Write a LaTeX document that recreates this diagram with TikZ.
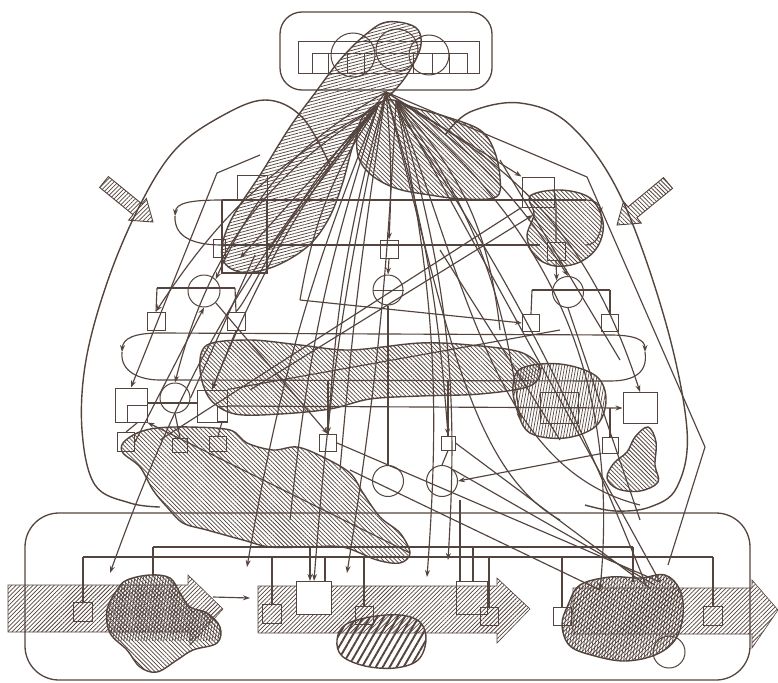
\documentclass[tikz,border=0pt]{standalone}
\usetikzlibrary{patterns.meta,arrows.meta,calc}
\definecolor{ink}{RGB}{84,68,62}
\begin{document}
\begin{tikzpicture}[x=1pt,y=-1pt,
  color=ink, line width=1.15pt,
  >={Stealth[length=7pt,width=5pt]},
  sq/.style={draw=ink, line width=1pt, inner sep=0pt, rectangle, minimum size=#1},
  sq/.default=18,
  rbox/.style 2 args={draw=ink, line width=1pt, inner sep=0pt, rectangle, minimum width=#1, minimum height=#2},
  circ/.style={draw=ink, line width=1pt, inner sep=0pt, circle, minimum size=#1},
  hA/.style={pattern={Lines[angle=45,distance=3pt,line width=0.75pt]}, pattern color=ink},
  hB/.style={pattern={Lines[angle=-45,distance=3pt,line width=0.75pt]}, pattern color=ink},
  hH/.style={pattern={Lines[angle=15,distance=3pt,line width=0.75pt]}, pattern color=ink},
  hV/.style={pattern={Lines[angle=80,distance=2.8pt,line width=0.7pt]}, pattern color=ink},
  hT/.style={pattern={Lines[angle=60,distance=6pt,line width=1.9pt]}, pattern color=ink},
  blob/.style={draw=ink, line width=1.4pt},
  band/.style={draw=ink, line width=0.6pt, hA},
  conn/.style={draw=ink, line width=1.15pt},
]
\fill[white] (0,0) rectangle (778,682);
\useasboundingbox (0,0) rectangle (778,682);

% ---------- bottom frame and bands ----------
\node[rbox={725}{167}, rounded corners=34pt, line width=1.3pt] (botbox) at (387.5,596.5) {};
\path[band] (8,585) -- (188,585) -- (188,575) -- (223,609) -- (190,645) -- (190,632) -- (8,632) -- cycle;
\path[band] (258,586) -- (497,586) -- (497,578) -- (530,609) -- (497,643) -- (497,633) -- (258,633) -- cycle;
\path[band] (573,588) -- (752,588) -- (752,580) -- (778,610) -- (752,648) -- (752,634) -- (573,634) -- cycle;

% ---------- top frame ----------
\node[rbox={212}{78}, rounded corners=22pt, line width=1.3pt] (topbox) at (386,51) {};
\node[rbox={181}{32}] (toprect) at (388.5,58) {};

% ---------- blobs ----------
\draw[blob,hB] plot[smooth cycle, tension=0.6] coordinates {(387,100)(415,108)(447,117)(480,130)(494,150)(500,178)(496,197)(463,199)(430,195)(395,188)(368,172)(357,150)(362,118)};
\draw[blob,hH] plot[smooth cycle, tension=0.6] coordinates {(387,22)(415,27)(421,45)(410,70)(395,90)(372,112)(355,140)(342,185)(328,220)(307,247)(273,267)(240,272)(222,257)(230,222)(262,172)(290,127)(315,93)(340,60)(365,35)};
\draw[blob,hB] plot[smooth cycle, tension=0.6] coordinates {(530,196)(560,190)(590,198)(603,222)(598,246)(580,262)(555,266)(535,256)(527,236)(534,214)};
\draw[blob,hB] plot[smooth cycle, tension=0.55] coordinates {(207,345)(250,340)(300,345)(350,350)(420,343)(470,345)(520,352)(540,368)(530,386)(480,394)(420,396)(370,399)(330,409)(280,414)(235,414)(210,399)(200,370)};
\draw[blob,hV] plot[smooth cycle, tension=0.6] coordinates {(522,368)(560,364)(596,376)(606,400)(596,426)(565,438)(530,433)(517,410)(513,386)};
\draw[line width=0.9pt] (540,392) rectangle (578,423);
\draw[blob,hB] plot[smooth cycle, tension=0.6] coordinates {(648,427)(656,442)(655,465)(658,482)(640,491)(618,489)(607,478)(614,463)(627,452)(635,437)};
\draw[blob,hB] plot[smooth cycle, tension=0.55] coordinates {(123,443)(137,433)(157,428)(190,427)(230,430)(247,443)(273,450)(297,447)(323,457)(350,473)(363,493)(380,517)(400,533)(410,553)(400,563)(377,560)(343,547)(307,547)(270,547)(243,540)(207,530)(183,523)(167,507)(153,490)(140,467)(123,453)};
% bottom blobs
\path[hB] plot[smooth cycle, tension=0.6] coordinates {(127,580)(150,575)(170,578)(180,593)(190,607)(207,613)(220,627)(217,643)(193,650)(177,660)(157,672)(140,667)(127,650)(110,633)(107,610)(117,590)};
\begin{scope}
\clip (100,570) rectangle (230,640);
\path[hV] plot[smooth cycle, tension=0.6] coordinates {(127,580)(150,575)(170,578)(180,593)(190,607)(207,613)(220,627)(217,643)(193,650)(177,660)(157,672)(140,667)(127,650)(110,633)(107,610)(117,590)};
\end{scope}
\draw[blob] plot[smooth cycle, tension=0.6] coordinates {(127,580)(150,575)(170,578)(180,593)(190,607)(207,613)(220,627)(217,643)(193,650)(177,660)(157,672)(140,667)(127,650)(110,633)(107,610)(117,590)};
\draw[blob,hT] plot[smooth cycle, tension=0.6] coordinates {(345,625)(370,617)(400,615)(420,622)(426,640)(418,660)(395,668)(365,666)(342,656)(337,640)};
\path[hA] plot[smooth cycle, tension=0.6] coordinates {(580,585)(610,577)(640,578)(665,575)(680,590)(683,615)(675,640)(655,655)(625,661)(595,656)(570,646)(562,625)(568,605)};
\path[hV] plot[smooth cycle, tension=0.6] coordinates {(580,585)(610,577)(640,578)(665,575)(680,590)(683,615)(675,640)(655,655)(625,661)(595,656)(570,646)(562,625)(568,605)};
\draw[blob] plot[smooth cycle, tension=0.6] coordinates {(580,585)(610,577)(640,578)(665,575)(680,590)(683,615)(675,640)(655,655)(625,661)(595,656)(570,646)(562,625)(568,605)};

% ---------- block arrows ----------
\path[band, line width=0.9pt] (99.6,187.4) -- (133.1,214.7) -- (128.6,220.2) -- (153,222) -- (146.4,198.5) -- (141.9,203.9) -- (108.4,176.6) -- cycle;
\path[band, line width=0.9pt, hB] (672.5,188.4) -- (636.9,217.7) -- (641.3,223.1) -- (617,225) -- (623.5,201.5) -- (628,206.9) -- (663.5,177.6) -- cycle;

% ---------- nodes ----------
\node[circ=44] (tc1) at (353,55) {};
\node[circ=42] (tc2) at (397,50) {};
\node[circ=40] (tc3) at (429,55) {};
\node[rbox={16}{20}] (ts1) at (320,64) {};
\node[rbox={17}{20}] (ts2) at (356,64) {};
\node[rbox={19}{20}] (ts3) at (423,64) {};
\node[rbox={18}{20}] (ts4) at (458,64) {};
\draw[line width=1pt] (ts1.north) -- (ts4.north);

\node[rbox={30}{24}] (s1a) at (252,187) {};
\node[rbox={32}{30}] (s1b) at (538,192) {};
\node[sq=18] (s1c) at (389,249) {};
\node[rbox={12}{18}] (s1d) at (219,248) {};
\node[rbox={18}{18}] (s1e) at (556,251) {};

\node[circ=32] (c2a) at (204,291) {};
\node[circ=30] (c2b) at (388,290) {};
\node[circ=31] (c2c) at (568,292) {};
\draw[line width=1pt] (c2b.west) -- (c2b.east);
\node[sq=18] (q2a) at (156,321) {};
\node[sq=18] (q2b) at (236,321) {};
\node[sq=17] (q2c) at (531,323) {};
\node[sq=17] (q2d) at (610,323) {};

\node[rbox={32}{34}] (r3a) at (131,405) {};
\node[circ=30] (c3) at (175,398) {};
\node[rbox={30}{32}] (r3b) at (212,406) {};
\node[rbox={20}{17}] (r3c) at (137,414) {};
\node[rbox={10}{15}] (r3d) at (222,414) {};
\node[rbox={17}{19}] (q3a) at (126,442) {};
\node[rbox={15}{14}] (q3b) at (180,445) {};
\node[rbox={17}{15}] (q3c) at (218,444) {};
\node[sq=17] (q3e) at (328,443) {};
\node[sq=14] (q3f) at (448,443) {};
\node[rbox={34}{31}] (r3r) at (640,408) {};
\node[sq=16] (q3r) at (610,445) {};
\node[circ=31] (c4a) at (388,481) {};
\node[circ=31] (c4b) at (442,481) {};

\node[sq=19] (bs1) at (83,612) {};
\node[sq=19] (bs2) at (272,614) {};
\node[rbox={35}{33}, fill=white] (br1) at (314,598) {};
\node[sq=18] (bs3) at (364,615) {};
\node[rbox={31}{33}] (br2) at (472,598) {};
\node[sq=18] (bs4) at (489,616) {};
\node[sq=18] (bs5) at (562,616) {};
\node[sq=19] (bs6) at (713,616) {};
\node[circ=32] (bc) at (669,652) {};

% ---------- racetrack loops ----------
\coordinate (L1a) at (222,200); \coordinate (L1b) at (222,245);
\coordinate (R1a) at (586,200); \coordinate (R1b) at (586,245);
\coordinate (L1m) at (175,216); \coordinate (R1m) at (601,214);
\draw[conn] (L1a) -- (R1a);
\draw[conn] (L1b) -- (540,245);
\draw[conn,->] (L1a) .. controls (190,200) and (176,203) .. (L1m);
\draw[conn] (L1m) .. controls (174,238) and (195,245) .. (L1b);
\draw[conn,->] (R1a) .. controls (596,200) and (600,205) .. (R1m);
\draw[conn] (R1m) .. controls (603,236) and (595,245) .. (R1b);
\coordinate (L2a) at (160,333); \coordinate (L2b) at (160,380);
\coordinate (R2a) at (610,335); \coordinate (R2b) at (610,381);
\coordinate (L2m) at (122,352); \coordinate (R2m) at (645,352);
\draw[conn] (L2a) -- (R2a);
\draw[conn] (L2b) -- (R2b);
\draw[conn,->] (L2a) .. controls (135,333) and (123,338) .. (L2m);
\draw[conn] (L2m) .. controls (120,372) and (140,380) .. (L2b);
\draw[conn,->] (R2a) .. controls (635,335) and (645,340) .. (R2m);
\draw[conn] (R2m) .. controls (648,372) and (635,381) .. (R2b);

% ---------- trees ----------
\draw[conn] (222,200) -- (222,273) -- (267,273) -- (267,200);
\draw[conn] (s1b.east) -- (556,203) -- (s1e.north);
\draw[conn,->] (s1e.south) -- (c2c.north west);
\draw[conn] (157,288) -- (235,288);
\draw[conn] (157,288) -- (q2a.north); \draw[conn] (235,288) -- (q2b.north);
\draw[conn] (532,290) -- (610,290);
\draw[conn] (532,290) -- (q2c.north); \draw[conn] (610,290) -- (q2d.north);
\draw[conn] (147,403) -- (197,403);
\draw[conn] (r3c.south) -- (q3a.north);
\draw[conn] (c3.south) -- (q3b.north);
\draw[conn] (r3d.south) -- (q3c.north);
\draw[conn,->] (s1c.south) -- (c2b.north);
\draw[conn] (c2b.south) -- (c4a.north);
\draw[conn] (q3f.north) -- (448,380);
\draw[conn] (q3f.south) -- (c4b.north);
\draw[conn] (q3e.north) -- (328,380);
\draw[conn,->] (r3b.east) -- (r3r.west);
\draw[conn] (q3r.north) -- (610,408);
% bottom tree
\draw[conn] (153,547) -- (633,547);
\draw[conn] (83,557) -- (713,557);
\draw[conn] (83,557) -- (bs1.north);
\draw[conn] (153,547) -- (153,576);
\draw[conn] (272,557) -- (bs2.north);
\draw[conn,->] (310,547) -- (br1.north -| 310,0);
\draw[conn] (325,557) -- (325,582);
\draw[conn] (364,557) -- (bs3.north);
\draw[conn] (460,500) -- (460,582);
\draw[conn] (473,547) -- (473,582);
\draw[conn] (489,557) -- (bs4.north);
\draw[conn] (562,557) -- (bs5.north);
\draw[conn] (633,547) -- (633,582);
\draw[conn] (713,557) -- (bs6.north);
\coordinate (ba1) at (213,597); \coordinate (ba2) at (250,598);
\draw[conn,->] (ba1) -- (ba2);

% ---------- big contours ----------
\coordinate (Lo1) at (330,165); \coordinate (Lo2) at (160,507);
\draw[conn, line width=1.4pt] plot[smooth, tension=0.6] coordinates {(Lo1)(302,117)(265,100)(220,117)(175,150)(140,205)(108,280)(86,360)(82,430)(95,485)(130,503)(Lo2)};
\coordinate (Ro1) at (445,135); \coordinate (Ro2) at (585,505);
\draw[conn, line width=1.4pt] plot[smooth, tension=0.6] coordinates {(Ro1)(470,112)(520,103)(570,125)(620,195)(665,320)(687,430)(677,487)(650,507)(615,511)(Ro2)};
\coordinate (H) at (386,92);
\coordinate (Ha) at (378,106);
\coordinate (Hb) at (396,101);
\coordinate (Rp1) at (587,177); \coordinate (Rp2) at (705,447); \coordinate (Rp3) at (668,565);
\draw[conn] (H) -- (Rp1) -- (Rp2) -- (Rp3);
\coordinate (Lp1) at (260,155); \coordinate (Lp2) at (217,173);
\draw[conn,->] (Lp1) -- (Lp2) -- (r3a.north);

% ---------- radiating connectors from the hub ----------
\draw[conn,->] (Ha) to[bend right=10] (110,573);
\draw[conn,->] (Ha) to[bend right=6] (247,567);
\draw[conn,->] (H) to[bend right=4] (br1.north);
\draw[conn,->] (Hb) to[bend left=3] (347,573);
\draw[conn,->] (Hb) to[bend left=8] (427,577);
\draw[conn,->] (H) to[bend right=18] (c2a.north east);
\draw[conn,->] (Ha) to[bend right=22] (c3.north);
\draw[conn,->] (H) to[bend right=8] (r3b.north);
\draw[conn,->] (Hb) to[bend left=22] (r3r.north);
\draw[conn,->] (Hb) to[bend left=28] (600,590);
\draw[conn,->] (H) to[bend left=12] (c2c.north);
\draw[conn,->] (H) to (s1b.north west);
\draw[conn,->] (H) to[bend left=4] (s1c.north);
\draw[conn,->] (Ha) to (240,258);
\draw[conn,->] (Ha) to (268,250);
\draw[conn,->] (H) to[bend left=6] (q3f.north);
\draw[conn,->] (H) to[bend right=6] (q3e.north);
\draw[conn] (Hb) .. controls (470,300) and (500,470) .. (640,505);
\draw[conn] (H) .. controls (445,320) and (470,470) .. (560,520);
\draw[conn] (Ha) .. controls (300,180) and (250,300) .. (q2b.north);
\draw[conn] (Hb) -- (660,582);
\draw[conn] (H) to[bend left=6] (646,585);
\draw[conn,->] (Ha) to[bend right=14] (q2a.north);
\draw[conn,->] (Hb) to[bend left=10] (448,560);
\draw[conn,->] (Hb) to[bend left=14] (520,420);
\draw[conn] (Ha) to[bend right=6] (290,520);
\draw[conn] (H) to[bend right=2] (340,470);
\draw[conn] (Ha) to[bend right=12] (300,300);
\draw[conn] (Hb) to[bend left=18] (500,330);

% ---------- crossing connectors ----------
\draw[conn,->] (250,390) -- (533,215);
\draw[conn] (500,160) -- (620,360);
\draw[conn,->] (410,553) -- (r3a.south east);
\draw[conn] (160,440) -- (s1b.south west);
\draw[conn,->] (c2a.south east) -- (q3e.north);
\draw[conn,->] (q3a.east) -- (c2a.south);
\draw[conn] (c2c.south) -- (640,520);
\draw[conn] (q3e.east) -- (660,582);
\draw[conn] (c4b.north east) -- (655,585);
\draw[conn] (q3f.east) -- (650,588);
\draw[conn,->] (q3r.south west) -- (c4b.east);
\draw[conn] (350,470) -- (600,590);
\draw[conn] (r3b.north east) -- (560,330);
\draw[conn,->] (q2b.south) -- (r3b.north);
\draw[conn] (440,250) -- (560,440);
\draw[conn,->] (300,300) -- (q2c.west);
\draw[conn] (c3.east) -- (255,255);
\end{tikzpicture}
\end{document}
